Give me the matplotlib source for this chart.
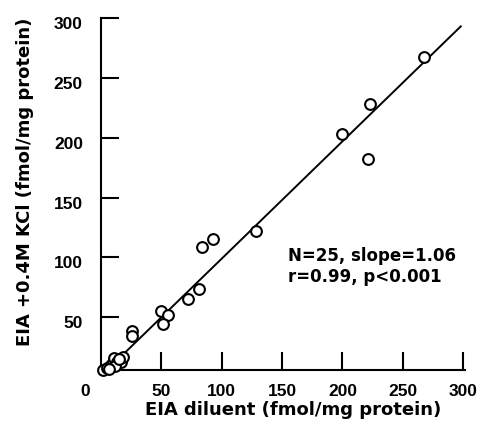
import matplotlib
matplotlib.use("Agg")
import matplotlib.pyplot as plt
import matplotlib.transforms as mtransforms

plt.rcParams["font.family"] = ["Liberation Sans", "DejaVu Sans"]
plt.rcParams["font.weight"] = "bold"

# DATA

diluent = [267.9, 222.9, 199.7, 221.5, 128.4, 92.5, 83.7, 81.5, 71.8,
           49.7, 55.8, 51.6, 26.0, 26.0,
           2.0, 5.0, 8.0, 10.0, 11.0, 13.0, 16.5, 18.0, 12.0, 7.0, 15.0]
kcl = [267.3, 228.0, 203.0, 182.5, 122.0, 115.6, 108.7, 73.3, 65.2,
       55.4, 51.6, 44.6, 38.5, 34.5,
       6.0, 8.0, 10.0, 11.5, 16.0, 13.0, 12.8, 16.5, 9.0, 6.5, 15.0]

fit_x = [2, 298]
fit_y = [3, 293]

x_ticks = [50, 100, 150, 200, 250, 300]
y_ticks = [50, 100, 150, 200, 250, 300]

stats_text = "N=25, slope=1.06\nr=0.99, p<0.001"

# FIGURE

fig = plt.figure(figsize=(4.82, 4.30), dpi=100)
ax = fig.add_axes([101 / 482, 60 / 430, 364 / 482, 352 / 430])

ax.plot(fit_x, fit_y, color="black", linewidth=1.4, zorder=2)
ax.scatter(diluent, kcl, s=60, facecolors="white", edgecolors="black",
           linewidths=1.5, zorder=3, clip_on=False)

ax.set_xlim(0, 301.5)
ax.set_ylim(6, 300)

ax.set_xticks(x_ticks)
ax.set_yticks(y_ticks)

for side in ["top", "right"]:
    ax.spines[side].set_visible(False)
for side in ["left", "bottom"]:
    ax.spines[side].set_linewidth(1.5)

ax.tick_params(axis="both", direction="in", length=13, width=1.5,
               labelsize=12.5)
ax.tick_params(axis="x", pad=10)
ax.tick_params(axis="y", pad=13)

# y tick labels sit a little below their ticks in the original
offset = mtransforms.ScaledTranslation(0, -5 / 100, fig.dpi_scale_trans)
for lab in ax.get_yticklabels():
    lab.set_transform(lab.get_transform() + offset)

label_font = ["DejaVu Sans"]

ax.text(155, 109, stats_text, fontsize=12, ha="left", va="top",
        linespacing=1.25, family=label_font)

# shared origin label
fig.text(85 / 482, 1 - 392 / 430, "0", fontsize=12.5, ha="center",
         va="center")

fig.text(293 / 482, 1 - 410 / 430, "EIA diluent (fmol/mg protein)",
         fontsize=13, ha="center", va="center", family=label_font)
fig.text(25 / 482, 1 - 182 / 430, "EIA +0.4M KCl (fmol/mg protein)",
         fontsize=13, ha="center", va="center", rotation=90,
         family=label_font)

plt.savefig("out.png", dpi=100)
plt.close()
